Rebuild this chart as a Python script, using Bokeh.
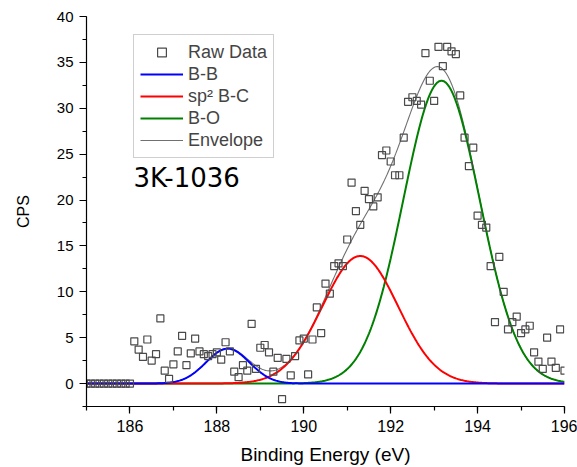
import numpy as np
from bokeh.plotting import figure
from bokeh.models import Range1d, SingleIntervalTicker, Legend, LegendItem, Label
from bokeh.embed import file_html
from bokeh.resources import INLINE

# ---- data ----
binding_energy = [
    185.0, 185.1, 185.2, 185.3, 185.4, 185.5, 185.6, 185.7, 185.8, 185.9,
    186.0, 186.1, 186.2, 186.3, 186.4, 186.5, 186.6, 186.7, 186.8, 186.9,
    187.0, 187.1, 187.2, 187.3, 187.4, 187.5, 187.6, 187.7, 187.8, 187.9,
    188.0, 188.1, 188.2, 188.3, 188.4, 188.5, 188.6, 188.7, 188.8, 188.9,
    189.0, 189.1, 189.2, 189.3, 189.4, 189.5, 189.6, 189.7, 189.8, 189.9,
    190.0, 190.1, 190.2, 190.3, 190.4, 190.5, 190.6, 190.7, 190.8, 190.9,
    191.0, 191.1, 191.2, 191.3, 191.4, 191.5, 191.6, 191.7, 191.8, 191.9,
    192.0, 192.1, 192.2, 192.3, 192.4, 192.5, 192.6, 192.7, 192.8, 192.9,
    193.0, 193.1, 193.2, 193.3, 193.4, 193.5, 193.6, 193.7, 193.8, 193.9,
    194.0, 194.1, 194.2, 194.3, 194.4, 194.5, 194.6, 194.7, 194.8, 194.9,
    195.0, 195.1, 195.2, 195.3, 195.4, 195.5, 195.6, 195.7, 195.8, 195.9,
    196.0,
]
raw_cps = [
    0, 0, 0, 0, 0, 0, 0, 0, 0, 0,
    0, 4.6, 3.7, 2.9, 4.8, 2.5, 3.2, 7.1, 1.4, 0.5,
    2.1, 3.5, 5.2, 2.0, 3.3, 4.9, 3.5, 3.2, 3.0, 3.2,
    3.4, 2.6, 4.5, 3.5, 1.3, 0.7, 2.0, 1.4, 6.5, 1.6,
    3.9, 4.2, 3.4, 1.3, 2.8, -1.7, 2.7, 0.9, 3.0, 4.7,
    4.9, 1.0, 4.8, 8.3, 5.5, 10.9, 9.8, 12.8, 13.1, 12.8,
    15.7, 21.9, 18.8, 17.3, 21.0, 20.1, 19.3, 20.3, 24.9, 25.4,
    24.2, 22.7, 22.7, 26.8, 30.7, 31.2, 30.8, 30.4, 36.0, 33.0,
    30.8, 36.7, 34.6, 36.7, 36.2, 35.9, 31.4, 26.8, 23.7, 25.7,
    18.3, 17.3, 17.0, 12.8, 6.7, 13.8, 10.0, 5.9, 6.7, 7.3,
    5.5, 5.9, 6.3, 3.4, 2.4, 1.6, 5.0, 2.4, 1.7, 5.9,
    1.4,
]

# fitted Gaussian components (parameters)
peak_names = ["B-B", "sp\u00b2 B-C", "B-O"]
peak_centers = [188.25, 191.30, 193.17]
peak_heights = [3.8, 13.9, 33.0]
peak_sigmas = [0.50, 0.87, 0.88]
peak_colors = ["#0000ff", "#ff0000", "#008000"]

x_ticks_interval = 2
y_ticks_interval = 5

# ---- figure ----
p = figure(width=577, height=467, output_backend="svg", toolbar_location=None,
           x_range=Range1d(185, 196), y_range=Range1d(-2.5, 40),
           min_border_left=86, min_border_right=13, min_border_top=16,
           min_border_bottom=60, background_fill_color="white",
           border_fill_color="white")
p.outline_line_color = None
p.xgrid.visible = False
p.ygrid.visible = False

xs = np.linspace(185, 196, 551)
comps = []
for c, h, s in zip(peak_centers, peak_heights, peak_sigmas):
    comps.append(h * np.exp(-((xs - c) ** 2) / (2 * s * s)))
envelope = comps[0] + comps[1] + comps[2]

r_env = p.line(xs, envelope, line_color="#707070", line_width=1.1)
r_green = p.line(xs, comps[2], line_color=peak_colors[2], line_width=2)
r_red = p.line(xs, comps[1], line_color=peak_colors[1], line_width=2)
r_blue = p.line(xs, comps[0], line_color=peak_colors[0], line_width=2)
r_raw = p.scatter(binding_energy, raw_cps, marker="square", size=7,
                  fill_color=None, line_color="#4a4a4a", line_width=1.2)

legend = Legend(items=[
    LegendItem(label="Raw Data", renderers=[r_raw]),
    LegendItem(label=peak_names[0], renderers=[r_blue]),
    LegendItem(label=peak_names[1], renderers=[r_red]),
    LegendItem(label=peak_names[2], renderers=[r_green]),
    LegendItem(label="Envelope", renderers=[r_env]),
], location=(47, 248), margin=0, padding=6, spacing=0,
   glyph_width=43, glyph_height=22, label_height=22, label_standoff=5,
   label_text_font="Liberation Sans", label_text_font_size="18px",
   border_line_color="#a0a0a0", border_line_width=1,
   background_fill_color="white", background_fill_alpha=1)
p.add_layout(legend, "center")

p.add_layout(Label(x=186.08, y=22.4, text="3K-1036", text_font="DejaVu Sans",
                   text_font_size="26px", text_baseline="middle",
                   text_align="left", text_color="black"))

# axes
p.xaxis.ticker = SingleIntervalTicker(interval=x_ticks_interval, num_minor_ticks=2)
p.yaxis.ticker = SingleIntervalTicker(interval=y_ticks_interval, num_minor_ticks=2)
for ax in (p.xaxis[0], p.yaxis[0]):
    ax.axis_line_color = "black"
    ax.axis_line_width = 1.2
    ax.major_tick_line_color = "black"
    ax.major_tick_line_width = 1.2
    ax.minor_tick_line_color = "black"
    ax.minor_tick_line_width = 1.2
    ax.major_tick_in = 0
    ax.major_tick_out = 7
    ax.minor_tick_in = 0
    ax.minor_tick_out = 4
    ax.major_label_text_font = "Liberation Sans"
    ax.major_label_text_color = "black"
    ax.axis_label_text_font = "Liberation Sans"
    ax.axis_label_text_font_style = "normal"
    ax.axis_label_text_color = "black"
    ax.major_label_standoff = 6

p.xaxis.axis_label = "Binding Energy (eV)"
p.xaxis.axis_label_text_font_size = "19px"
p.xaxis.major_label_text_font_size = "16px"
p.xaxis.axis_label_standoff = 9
p.yaxis.axis_label = "CPS"
p.yaxis.axis_label_text_font_size = "16px"
p.yaxis.major_label_text_font_size = "15px"
p.yaxis.axis_label_standoff = 22

open("out.html", "w").write(file_html(p, INLINE))
